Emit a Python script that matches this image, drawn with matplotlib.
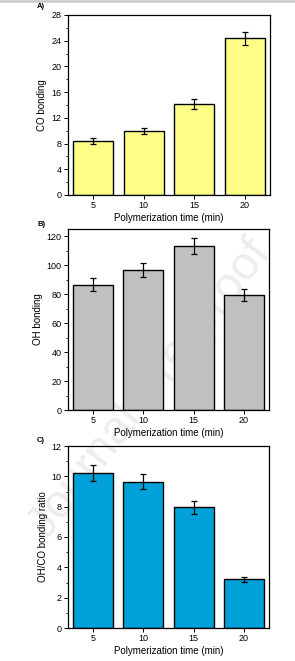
import matplotlib
matplotlib.use("Agg")
import matplotlib.pyplot as plt
from matplotlib.ticker import MultipleLocator, AutoMinorLocator

plt.rcParams['font.family'] = ['Liberation Sans', 'DejaVu Sans']

categories = ["5", "10", "15", "20"]
co_values = [8.4, 10.0, 14.15, 24.4]
co_errors = [0.45, 0.5, 0.75, 1.0]
oh_values = [86.5, 96.9, 113.3, 79.3]
oh_errors = [4.5, 4.8, 5.8, 4.2]
ratio_values = [10.2, 9.65, 7.95, 3.22]
ratio_errors = [0.52, 0.5, 0.42, 0.16]

xlabel = "Polymerization time (min)"

fig = plt.figure(figsize=(2.95, 6.61), dpi=100)

# faint watermark behind the plots
fig.text(150/295, 1-390/661, "Journal Pre-proof", fontsize=34, color="#ededed",
         rotation=52, ha="center", va="center", zorder=-5)

panels = [
    dict(rect=[68/295, 1-195/661, 202/295, 180/661], vals=co_values, errs=co_errors,
         color="#FFFF88", ylabel="CO bonding", ylim=28, major=4, label="A)", ly=6),
    dict(rect=[68/295, 1-410/661, 201/295, 181/661], vals=oh_values, errs=oh_errors,
         color="#C0C0C0", ylabel="OH bonding", ylim=125, major=20, label="B)", ly=224),
    dict(rect=[68/295, 1-628/661, 201/295, 182/661], vals=ratio_values, errs=ratio_errors,
         color="#00A0D8", ylabel="OH/CO bonding ratio", ylim=12, major=2, label="C)", ly=440),
]

for p in panels:
    ax = fig.add_axes(p["rect"])
    ax.set_facecolor("none")
    ax.set_zorder(1)
    x = range(len(categories))
    ax.bar(x, p["vals"], width=0.8, color=p["color"], edgecolor="black", linewidth=1.0,
           yerr=p["errs"], capsize=2, error_kw=dict(elinewidth=0.9, capthick=0.9, ecolor="black"))
    ax.set_xlim(-0.5, 3.5)
    ax.set_ylim(0, p["ylim"])
    ax.set_xticks(list(x))
    ax.set_xticklabels(categories)
    ax.yaxis.set_major_locator(MultipleLocator(p["major"]))
    ax.yaxis.set_minor_locator(AutoMinorLocator(2))
    ax.tick_params(axis="both", which="major", labelsize=6.5, length=3, width=0.7, pad=1.5, direction="out")
    ax.tick_params(axis="y", which="minor", length=1.8, width=0.6, direction="out")
    for s in ax.spines.values():
        s.set_linewidth(0.9)
    ax.set_xlabel(xlabel, fontsize=7, labelpad=2)
    ax.set_ylabel(p["ylabel"], fontsize=7, labelpad=3)
    fig.text(37/295, 1-p["ly"]/661, p["label"], fontsize=5.5, fontweight="bold", va="center", ha="left")

fig.add_artist(plt.Line2D([0, 1], [1-1/661, 1-1/661], color="#cccccc", linewidth=2, transform=fig.transFigure))

fig.savefig("out.png", dpi=100)
